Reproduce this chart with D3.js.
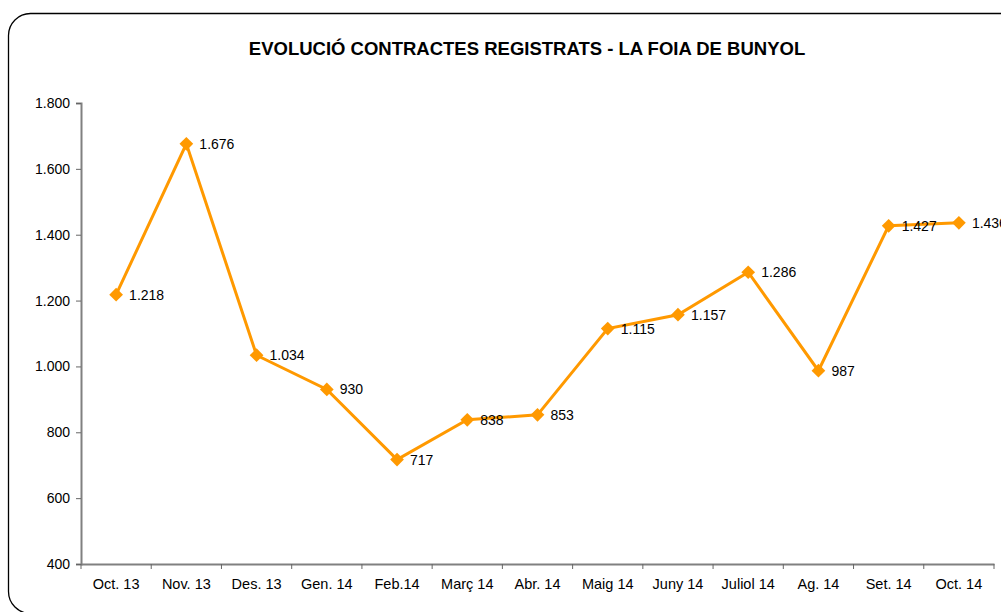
<!DOCTYPE html>
<html>
<head>
<meta charset="utf-8">
<script src="https://cdn.jsdelivr.net/npm/d3@7"></script>
<style>
  body { margin: 0; background: #fff; }
  svg { display: block; font-family: "Liberation Sans", Arial, sans-serif; }
</style>
</head>
<body>
<div id="chart"></div>
<script>
// data
var months = ["Oct. 13", "Nov. 13", "Des. 13", "Gen. 14", "Feb.14", "Març 14", "Abr. 14",
              "Maig 14", "Juny 14", "Juliol 14", "Ag. 14", "Set. 14", "Oct. 14"];
var contracts = [1218, 1676, 1034, 930, 717, 838, 853, 1115, 1157, 1286, 987, 1427, 1436];
var yTicks = [400, 600, 800, 1000, 1200, 1400, 1600, 1800];

var width = 1001, height = 612;
var fmt = function (v) { return d3.format(",")(v).replace(/,/g, "."); };

var svg = d3.select('#chart').append('svg')
    .attr('width', width)
    .attr('height', height);

// outer frame
svg.append('rect')
    .attr('x', 8.5).attr('y', 13.5)
    .attr('width', 1030).attr('height', 600)
    .attr('rx', 22).attr('ry', 22)
    .attr('fill', 'none')
    .attr('stroke', '#000')
    .attr('stroke-width', 1.3);

svg.append('text')
    .attr('x', 527).attr('y', 55)
    .attr('text-anchor', 'middle')
    .style('font-size', '18.5px')
    .style('font-weight', 'bold')
    .text('EVOLUCIÓ CONTRACTES REGISTRATS - LA FOIA DE BUNYOL');

var x = d3.scaleBand().domain(months).range([81, 994]);
var y = d3.scaleLinear().domain([400, 1800]).range([564, 103]);

// y axis
var yAxis = svg.append('g')
    .attr('transform', 'translate(81,0)')
    .call(d3.axisLeft(y).tickValues(yTicks).tickSize(5).tickPadding(6).tickFormat(fmt));
yAxis.selectAll('text').style('font-size', '14px').attr('fill', '#000');
yAxis.selectAll('.tick line').attr('stroke', '#666');

// x axis
var xAxis = svg.append('g')
    .attr('transform', 'translate(0,564)')
    .call(d3.axisBottom(x).tickSize(0).tickPadding(15));
xAxis.selectAll('text').style('font-size', '14.5px').attr('fill', '#000');
xAxis.selectAll('.tick').append('line')
    .attr('x1', x.bandwidth() / 2).attr('x2', x.bandwidth() / 2)
    .attr('y1', 0).attr('y2', 5)
    .attr('stroke', '#666');
svg.append('line')
    .attr('x1', 81).attr('x2', 81).attr('y1', 564).attr('y2', 569)
    .attr('stroke', '#666');

[yAxis, xAxis].forEach(function (g) {
    g.select('.domain').attr('stroke', '#808080').attr('stroke-width', 2);
});

var pts = months.map(function (m, i) {
    return { x: x(m) + x.bandwidth() / 2, y: y(contracts[i]), v: contracts[i] };
});

svg.append('path')
    .datum(pts)
    .attr('fill', 'none')
    .attr('stroke', '#FF9900')
    .attr('stroke-width', 3)
    .attr('d', d3.line().x(function (d) { return d.x; }).y(function (d) { return d.y; }));

svg.selectAll('path.marker')
    .data(pts)
    .enter()
    .append('path')
    .attr('class', 'marker')
    .attr('d', d3.symbol().type(d3.symbolDiamond2).size(120))
    .attr('transform', function (d) { return 'translate(' + d.x + ',' + d.y + ')'; })
    .attr('fill', '#FF9900');

svg.selectAll('text.lbl')
    .data(pts)
    .enter()
    .append('text')
    .attr('class', 'lbl')
    .attr('x', function (d) { return d.x + 13; })
    .attr('y', function (d) { return d.y + 5; })
    .style('font-size', '14px')
    .text(function (d) { return fmt(d.v); });
</script>
</body>
</html>
